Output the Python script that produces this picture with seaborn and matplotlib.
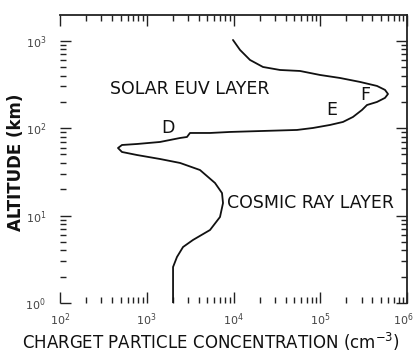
import matplotlib
matplotlib.use("Agg")
import matplotlib.pyplot as plt
import matplotlib.transforms as mtransforms
import seaborn as sns
import pandas as pd
from matplotlib.ticker import LogLocator, NullFormatter, FixedLocator, FixedFormatter

# ---- data ----
concentration = [9860, 11890, 15490, 21880, 34360, 58440, 99330, 169000, 287100, 451000,
                 557500, 604000, 557500, 451000, 345800, 302900, 238600, 182900, 129500, 82450,
                 53950, 21880, 9120, 5360, 3150, 2910, 2420, 1420, 772, 518,
                 466, 518, 772, 1420, 2420, 4110, 6120, 7370, 7570, 6990,
                 5360, 3410, 2620, 2230, 2010, 2010]
altitude_km = [1021, 785, 603, 501, 463, 451, 406, 375, 338, 304,
               274, 246, 222, 199.5, 184, 161.6, 134.4, 117.8, 108.8, 100.5,
               95.4, 92.9, 90.5, 88.1, 88.1, 79.3, 77.2, 69.5, 65.9, 64.2,
               59.3, 53.4, 49.3, 44.4, 40.0, 33.2, 23.6, 18.1, 13.9, 9.64,
               6.84, 5.26, 4.37, 3.36, 2.58, 1.0]

x_ticks = [1e2, 1e3, 1e4, 1e5, 1e6]
x_ticklabels = ["10$^2$", "10$^3$", "10$^4$", "10$^5$", "10$^6$"]
y_ticks = [1, 10, 100, 1000]
y_ticklabels = ["10$^0$", "10$^1$", "10$^2$", "10$^3$"]

annotations = [("SOLAR EUV LAYER", 377, 281, "left"),
               ("D", 1760, 100, "center"),
               ("E", 136000, 162, "center"),
               ("F", 328000, 240, "center"),
               ("COSMIC RAY LAYER", 8400, 13.9, "left")]

df = pd.DataFrame({"conc": concentration, "alt": altitude_km})

sns.set_theme(style="ticks")
plt.rcParams["font.family"] = ["DejaVu Sans"]

fig = plt.figure(figsize=(4.15, 3.56), dpi=100)
ax = fig.add_axes([60/415, 53/356, 347/415, 288/356])

sns.lineplot(data=df, x="conc", y="alt", sort=False, estimator=None,
             color="#111111", linewidth=1.3, ax=ax)

ax.set_xscale("log")
ax.set_yscale("log")
ax.set_xlim(1e2, 1e6)
ax.set_ylim(1, 1970)

ax.xaxis.set_major_locator(FixedLocator(x_ticks))
ax.xaxis.set_major_formatter(FixedFormatter(x_ticklabels))
ax.yaxis.set_major_locator(FixedLocator(y_ticks))
ax.yaxis.set_major_formatter(FixedFormatter(y_ticklabels))
ax.xaxis.set_minor_locator(LogLocator(base=10, subs=range(2, 10)))
ax.yaxis.set_minor_locator(LogLocator(base=10, subs=range(2, 10)))
ax.xaxis.set_minor_formatter(NullFormatter())
ax.yaxis.set_minor_formatter(NullFormatter())

ax.tick_params(which="both", direction="in", top=True, right=True, colors="#222222")
ax.tick_params(which="major", length=8, width=1.0, labelsize=8, labelcolor="#444444")
ax.tick_params(which="minor", length=4, width=1.0)
ax.tick_params(axis="y", which="major", pad=10)
ax.tick_params(axis="x", which="major", pad=6)

for side in ["left", "bottom"]:
    ax.spines[side].set_visible(False)
for side in ["top", "right"]:
    ax.spines[side].set_color("#222222")
    ax.spines[side].set_linewidth(1.3)

# keep the last x tick label inside the figure
last = ax.get_xticklabels()[-1]
last.set_transform(last.get_transform() +
                   mtransforms.ScaledTranslation(-4/100, 0, fig.dpi_scale_trans))

for text, x, y, ha in annotations:
    ax.text(x, y, text, ha=ha, va="center", fontsize=12.5, color="#111111")

ax.set_xlabel("")
fig.text(211/415, 1 - 342/356, "CHARGET PARTICLE CONCENTRATION (cm$^{-3}$)",
         ha="center", va="center", fontsize=12, color="#111111")
ax.set_ylabel("ALTITUDE (km)", fontsize=12, fontweight="bold", color="#111111")
ax.yaxis.set_label_coords(-0.10, 0.49)

fig.savefig("out.png", dpi=100)
